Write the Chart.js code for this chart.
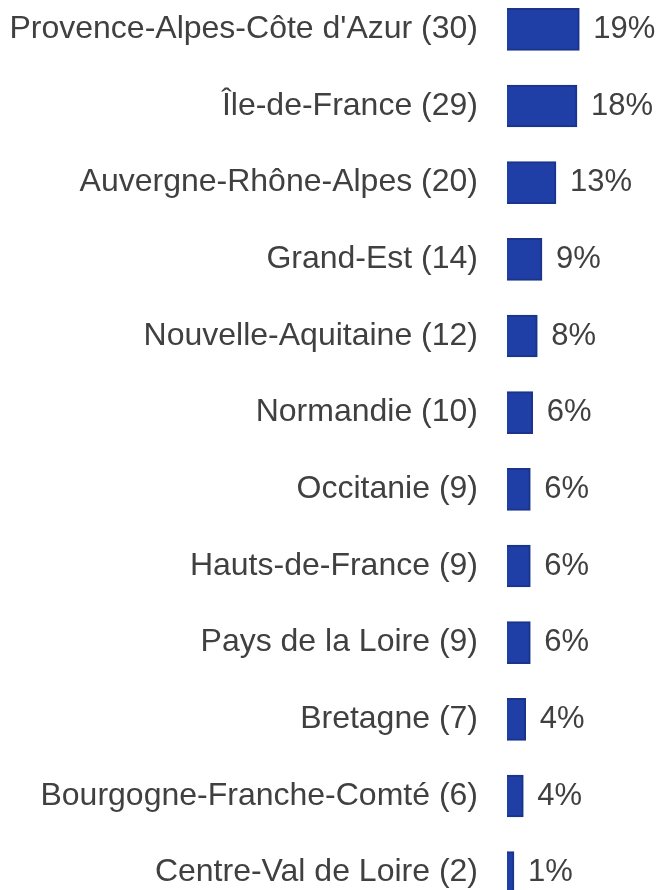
<!DOCTYPE html>
<html>
<head>
<meta charset="utf-8">
<script src="https://cdn.jsdelivr.net/npm/chart.js@4/dist/chart.umd.min.js"></script>
<style>
  html, body { margin: 0; padding: 0; background: #fff; overflow: hidden; }
  #wrap { position: absolute; left: 0; top: -9px; width: 661px; height: 920px; }
</style>
</head>
<body>
<div id="wrap"><canvas id="regions"></canvas></div>
<script>
const regions = [
  "Provence-Alpes-Côte d'Azur (30)",
  "Île-de-France (29)",
  "Auvergne-Rhône-Alpes (20)",
  "Grand-Est (14)",
  "Nouvelle-Aquitaine (12)",
  "Normandie (10)",
  "Occitanie (9)",
  "Hauts-de-France (9)",
  "Pays de la Loire (9)",
  "Bretagne (7)",
  "Bourgogne-Franche-Comté (6)",
  "Centre-Val de Loire (2)"
];
const counts = [30, 29, 20, 14, 12, 10, 9, 9, 9, 7, 6, 2];
const pctLabels = ["19%", "18%", "13%", "9%", "8%", "6%", "6%", "6%", "6%", "4%", "4%", "1%"];

const textColor = "#404040";
const font = "'Liberation Sans', Arial, sans-serif";
const fontSize = 32;

// draws the percentage next to each bar
const pctPlugin = {
  id: "pctLabels",
  afterDatasetsDraw(chart) {
    const c = chart.ctx;
    const meta = chart.getDatasetMeta(0);
    c.save();
    c.font = "31px " + font;
    c.fillStyle = textColor;
    c.textAlign = "left";
    c.textBaseline = "middle";
    meta.data.forEach((bar, i) => {
      c.fillText(pctLabels[i], bar.x + 14, bar.y);
    });
    c.restore();
  }
};

new Chart(document.getElementById("regions"), {
  type: "bar",
  data: {
    labels: regions,
    datasets: [{
      data: counts,
      base: -1,
      backgroundColor: "#1f3fa6",
      borderColor: "#1a348c",
      borderWidth: 2,
      barThickness: 42
    }]
  },
  options: {
    indexAxis: "y",
    responsive: true,
    maintainAspectRatio: false,
    animation: false,
    layout: { padding: 0 },
    plugins: {
      legend: { display: false },
      tooltip: { enabled: false }
    },
    scales: {
      x: {
        display: false,
        min: -1,
        max: 65
      },
      y: {
        grid: { display: false },
        border: { display: false },
        afterFit(scale) {
          scale.width = 507;
          scale.paddingTop = 0;
          scale.paddingBottom = 0;
        },
        ticks: {
          padding: 21,
          color: textColor,
          font: { size: fontSize, family: font }
        }
      }
    }
  },
  plugins: [pctPlugin]
});
</script>
</body>
</html>
